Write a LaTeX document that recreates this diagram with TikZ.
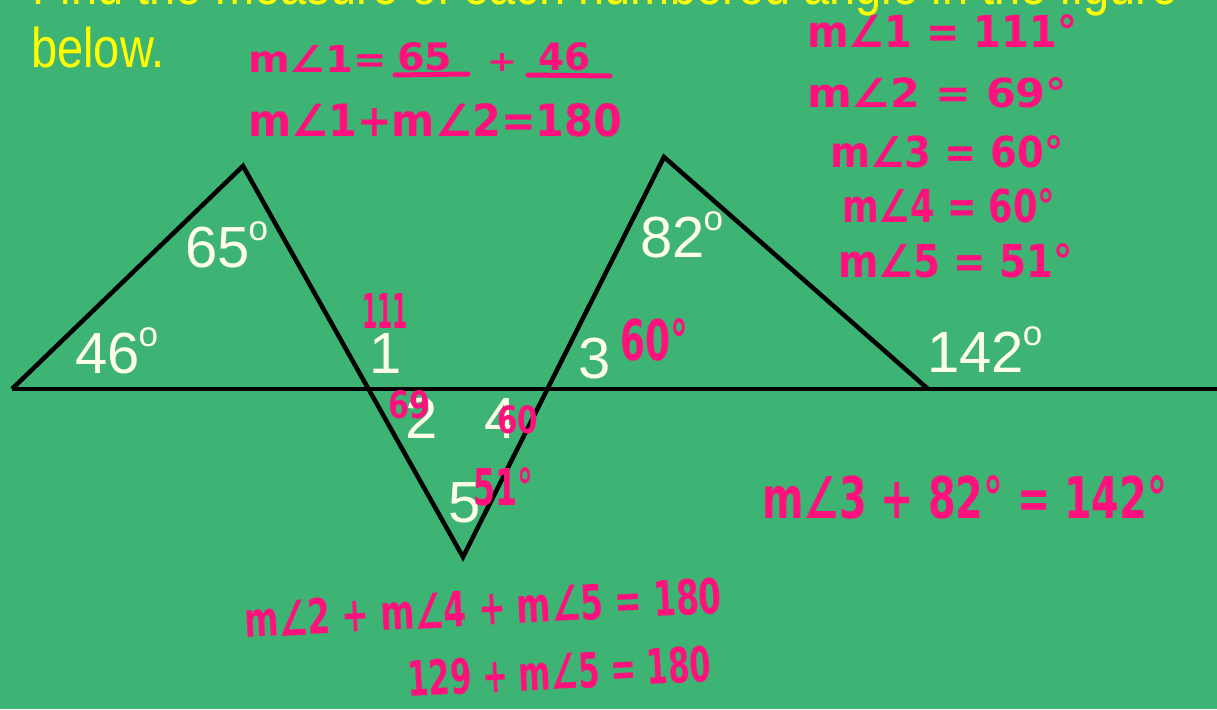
\documentclass[tikz,border=0pt]{standalone}
\usepackage{fontspec}
\setmainfont{Liberation Sans}
\newfontfamily\hand{DejaVu Sans}
\usepackage{graphicx}
\definecolor{bg}{RGB}{61,179,116}
\definecolor{pk}{RGB}{255,16,124}
\definecolor{yl}{RGB}{255,255,0}
\definecolor{cr}{RGB}{255,255,232}
\newcommand{\pkbox}[3]{\resizebox{#1pt}{#2pt}{\hand\bfseries #3}}
\newcommand{\dg}{\kern-1pt\raisebox{27pt}{\fontsize{35}{35}\selectfont o}}
\tikzset{
  wl/.style={text=cr, font=\fontsize{58}{58}\selectfont, inner sep=0pt, anchor=base west},
  ph/.style={text=pk, inner sep=0pt, anchor=base west},
  yt/.style={text=yl, font=\fontsize{56}{56}\selectfont, inner sep=0pt, anchor=base west},
  segline/.style={line width=4.5pt, draw=black, line join=miter},
  ul/.style={draw=pk, line width=5pt, line cap=round},
}
\begin{document}
\begin{tikzpicture}[x=1pt,y=-1pt]
\useasboundingbox (0,0) rectangle (1217,709);
\fill[bg] (0,0) rectangle (1217,709);

% yellow title
\node[yt] (t1) at (32,5) {\scalebox{0.84}[1]{Find the measure of each numbered angle in the figure}};
\node[yt] (t2) at (31,67) {\scalebox{0.84}[1]{below.}};

% figure
\coordinate (A) at (12,389);
\coordinate (B) at (243,166);
\coordinate (C) at (463,557);
\coordinate (D) at (664,157);
\coordinate (F) at (928,389);
\coordinate (E) at (1217,389);
\draw[segline] (A) -- (E);
\draw[segline] (A) -- (B) -- (C) -- (D) -- (F);

% white labels
\node[wl] (l65) at (185,267) {65\dg};
\node[wl] (l46) at (75,373) {46\dg};
\node[wl] (l1) at (369,373) {1};
\node[wl] (l2) at (405,438) {2};
\node[wl] (l4) at (484,438) {4};
\node[wl] (l5) at (448,522) {5};
\node[wl] (l3) at (578,378) {3};
\node[wl] (l82) at (640,257) {82\dg};
\node[wl] (l142) at (927,372) {142\dg};

% pink handwriting
\node[ph] (e1a) at (248,73) {\pkbox{139}{27}{m∠1=}};
\node[ph] (e1b) at (397,71) {\pkbox{55}{28}{65}};
\node[ph] (e1c) at (487,71) {\pkbox{30}{18}{+}};
\node[ph] (e1d) at (538,71) {\pkbox{52}{28}{46}};
\draw[ul] (395,75) -- (468,74);
\draw[ul] (528,75) -- (610,76);
\node[ph] (e2) at (248,136) {\pkbox{374}{33}{m∠1+m∠2=180}};

\node[ph] (r1) at (807,48) {\pkbox{270}{33}{m∠1 = 111°}};
\node[ph] (r2) at (807,107) {\pkbox{260}{30}{m∠2 = 69°}};
\node[ph] (r3) at (830,167) {\pkbox{233}{32}{m∠3 = 60°}};
\node[ph] (r4) at (842,222) {\pkbox{213}{34}{m∠4 = 60°}};
\node[ph] (r5) at (838,277) {\pkbox{235}{34}{m∠5 = 51°}};

\node[ph] (a111) at (362,328) {\pkbox{46}{35}{111}};
\node[ph] (a69) at (388,418) {\pkbox{42}{28}{69}};
\node[ph] (a60) at (497,433) {\pkbox{41}{28}{60}};
\node[ph] (a51) at (473,505) {\pkbox{60}{38}{51°}};
\node[ph] (a60b) at (620,360) {\pkbox{68}{42}{60°}};

\node[ph] (e3) at (762,518) {\pkbox{405}{43}{m∠3 + 82° = 142°}};
\node[ph, rotate=3] (e4) at (245,638) {\pkbox{478}{36}{m∠2 + m∠4 + m∠5 = 180}};
\node[ph, rotate=3] (e5) at (408,697) {\pkbox{304}{36}{129 + m∠5 = 180}};
\end{tikzpicture}
\end{document}
